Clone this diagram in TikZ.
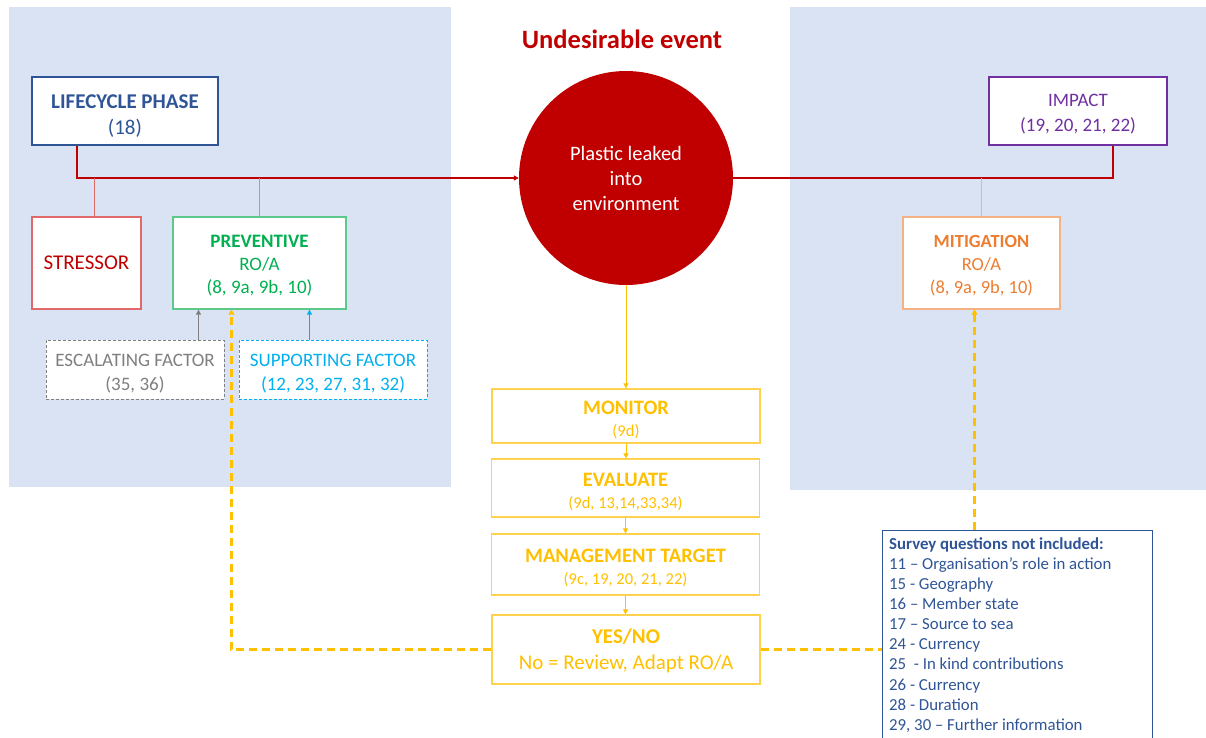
\documentclass[tikz,border=0pt]{standalone}
\usepackage{fontspec}
\setmainfont{Carlito}
\usetikzlibrary{arrows.meta}
\definecolor{panel}{HTML}{DAE3F3}
\definecolor{lcblue}{HTML}{2F5597}
\definecolor{darkred}{HTML}{C00000}
\definecolor{strb}{HTML}{E06A6A}
\definecolor{prevg}{HTML}{00B050}
\definecolor{prevb}{HTML}{5CC98A}
\definecolor{escg}{HTML}{7F7F7F}
\definecolor{supb}{HTML}{00B0F0}
\definecolor{impp}{HTML}{7030A0}
\definecolor{mito}{HTML}{ED7D31}
\definecolor{mitb}{HTML}{F4B183}
\definecolor{yel}{HTML}{FFC000}
\definecolor{yelb}{HTML}{FFD24D}
\newcommand{\fs}[2]{\fontsize{#1}{#2}\selectfont}
\newcommand{\tstrut}[1]{\rule{0pt}{#1}}
\begin{document}
\begin{tikzpicture}[x=1pt,y=-1pt,
  box/.style={draw, fill=white, line width=1.2pt, inner sep=0pt, align=center},
  ybox/.style={box, draw=yelb, text=yel, minimum width=268pt, font=\fs{20.5}{22}},
  ydash/.style={draw=yel, line width=2.2pt, dash pattern=on 8pt off 5pt},
  yarrow/.style={draw=yel, line width=1pt, -{Triangle[length=5pt,width=5pt]}},
  tip/.style={-{Triangle[length=5pt,width=5pt]}}]
\useasboundingbox (0,0) rectangle (1206,737);
\fill[panel] (9,7) rectangle (451,487);
\fill[panel] (790,7) rectangle (1206,490);
\coordinate (bus) at (0,178);

\node[font=\fs{26.5}{30}\bfseries, text=darkred] (title) at (622,39) {Undesirable event};
\node[circle, fill=darkred, minimum size=214pt, inner sep=0pt, align=center, text=white, font=\fs{20.5}{25}] (circ) at (626,178) {Plastic leaked\\into\\environment};

\node[box, draw=lcblue, line width=2pt, text=lcblue, minimum width=186pt, minimum height=68pt, font=\fs{21}{26}] (life) at (125,111) {\tstrut{23pt}\textbf{LIFECYCLE PHASE}\\(18)};
\node[box, draw=strb, text=darkred, minimum width=109pt, minimum height=92pt, font=\fs{21}{23}] (str) at (86.5,263) {STRESSOR};
\node[box, draw=prevb, text=prevg, minimum width=173pt, minimum height=92pt, font=\fs{19}{23}] (prev) at (259.5,263) {\tstrut{18pt}\textbf{PREVENTIVE}\\RO/A\\(8, 9a, 9b, 10)};
\node[box, draw=escg, dash pattern=on 3pt off 2pt, line width=1pt, text=escg, minimum width=178pt, minimum height=59pt, font=\fs{19}{24}] (esc) at (135,369.5) {\tstrut{20pt}ESCALATING FACTOR\\(35, 36)};
\node[box, draw=supb, dash pattern=on 3pt off 2pt, line width=1pt, text=supb, minimum width=188pt, minimum height=59pt, font=\fs{19}{24}] (sup) at (333,369.5) {\tstrut{20pt}SUPPORTING FACTOR\\(12, 23, 27, 31, 32)};

\node[box, draw=impp, line width=2pt, text=impp, minimum width=178pt, minimum height=68pt, font=\fs{19}{25}] (imp) at (1078,111) {\tstrut{18pt}IMPACT\\(19, 20, 21, 22)};
\node[box, draw=mitb, text=mito, minimum width=157pt, minimum height=92pt, font=\fs{18.5}{23}] (mit) at (981.5,263) {\tstrut{18pt}\textbf{MITIGATION}\\RO/A\\(8, 9a, 9b, 10)};

\node[ybox, minimum height=54pt] (mon) at (626,416) {\tstrut{21pt}\textbf{MONITOR}\\{\fs{16.5}{22}(9d)}};
\node[ybox, minimum height=58pt] (eva) at (625.5,488) {\tstrut{21pt}\textbf{EVALUATE}\\{\fs{16.5}{22}(9d, 13,14,33,34)}};
\node[ybox, minimum height=61pt] (mgt) at (625.5,564.5) {\tstrut{21pt}\textbf{MANAGEMENT TARGET}\\{\fs{16.5}{22}(9c, 19, 20, 21, 22)}};
\node[ybox, minimum height=69pt, font=\fs{21}{26}] (yes) at (626,649.5) {\tstrut{18pt}\textbf{YES/NO}\\No = Review, Adapt RO/A};

\node[draw=lcblue, line width=1pt, fill=white, minimum width=270pt, minimum height=220pt, inner sep=0pt, anchor=north west] (survey) at (882,530) {};
\node[anchor=north west, inner sep=0pt, align=left, text=lcblue, font=\fs{16.8}{20.15}] (stxt) at (889,537) {\textbf{Survey questions not included:}\\
11 – Organisation’s role in action\\
15 - Geography\\
16 – Member state\\
17 – Source to sea\\
24 - Currency\\
25\ \ - In kind contributions\\
26 - Currency\\
28 - Duration\\
29, 30 – Further information};

% red bus
\draw[darkred, line width=1.8pt, tip] ([xshift=46pt]life.south west) |- (circ.west);
\draw[darkred, line width=1.8pt] (circ.east) -| ([xshift=125pt]imp.south west);
\draw[strb, line width=1pt] ([xshift=63pt]str.north west) -- ([xshift=63pt]str.north west |- bus);
\draw[prevb, line width=1pt] (prev.north) -- (prev.north |- bus);
\draw[mitb, line width=1pt] (mit.north) -- (mit.north |- bus);

% factor arrows
\draw[escg, line width=1pt, tip] ([xshift=153pt]esc.north west) -- ([xshift=153pt]esc.north west |- prev.south);
\draw[supb, line width=1pt, tip] ([xshift=71pt]sup.north west) -- ([xshift=71pt]sup.north west |- prev.south);

% yellow flow
\draw[yarrow] (circ.south) -- (mon.north);
\draw[yarrow] (mon.south) -- (mon.south |- eva.north);
\draw[yarrow] (eva.south) -- (mgt.north);
\draw[yarrow] (mgt.south) -- (mgt.south |- yes.north);
\draw[ydash, -{Triangle[length=5pt,width=6pt]}] (yes.west) -| ([xshift=59pt]prev.south west);
\draw[ydash] (yes.east) -- (yes.east -| survey.west);
\draw[ydash, -{Triangle[length=5pt,width=6pt]}] ([xshift=-7pt]mit.south |- survey.north) -- ([xshift=-7pt]mit.south);
\end{tikzpicture}
\end{document}
